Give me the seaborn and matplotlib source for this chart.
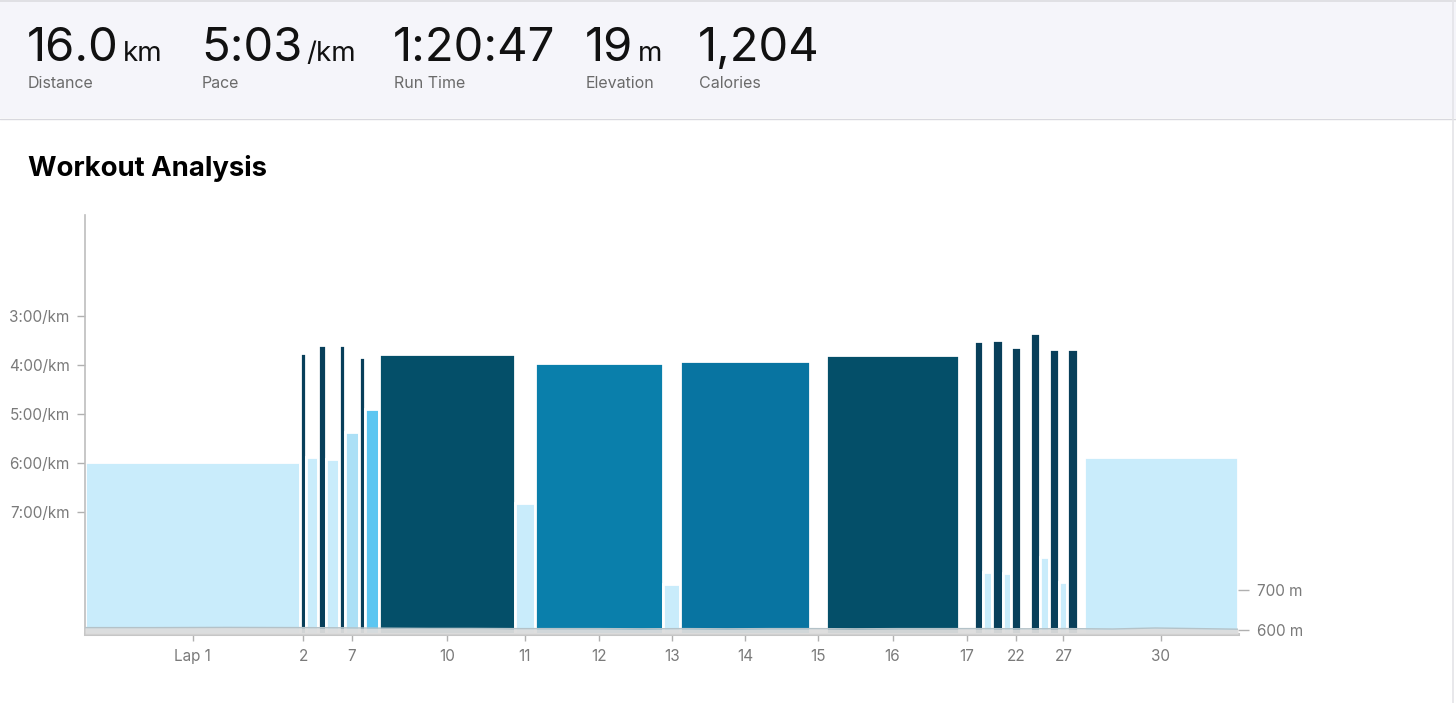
import numpy as np
import matplotlib
matplotlib.use("Agg")
import matplotlib.pyplot as plt
from matplotlib.patches import Rectangle
from matplotlib.lines import Line2D
import seaborn as sns

# ---------------- data ----------------
laps = list(range(1, 31))
lap_seconds = [906, 25, 50, 32, 53, 27, 57, 27, 61, 568, 88, 538, 71, 545, 67,
               561, 61, 40, 38, 44, 36, 40, 38, 44, 36, 44, 34, 44, 25, 648]
pace_sec = [359, 225, 353, 215, 355, 215, 322, 230, 294, 227, 409, 238, 508, 235, np.nan,
            228, np.nan, 211, 493, 209, 494, 218, np.nan, 201, 475, 221, 505, 221, np.nan, 353]
lap_kind = ["easy", "sprint", "easy", "sprint", "easy", "sprint", "steady", "sprint", "tempo",
            "hard", "easy", "threshold", "easy", "threshold2", "rest", "hard", "rest",
            "sprint", "easy", "sprint", "easy", "sprint", "rest", "sprint", "easy",
            "sprint", "easy", "sprint", "rest", "easy"]
tick_laps = [1, 2, 7, 10, 11, 12, 13, 14, 15, 16, 17, 22, 27, 30]
pace_ticks = [180, 240, 300, 360, 420]
pace_tick_labels = ["3:00/km", "4:00/km", "5:00/km", "6:00/km", "7:00/km"]
elev_ticks = [600, 700]
elev_tick_labels = ["600 m", "700 m"]
elev_time_min = [0, 5, 10, 15, 18, 21, 24, 27, 30, 33, 36, 39, 42, 45, 48, 51, 54,
                 57, 60, 63, 66, 69, 72, 75, 78, 80.8]
elev_m = [606, 606, 606.5, 606, 605.5, 604.5, 604, 604, 603.5, 603.5, 603.5, 603, 603.5,
          603, 603.5, 603.5, 603, 603.5, 603.5, 603.5, 603, 603.5, 602.5, 605, 603.5, 602]

stats_values = ["16.0", "5:03", "1:20:47", "19", "1,204"]
stats_units = ["km", "/km", "", "m", ""]
stats_labels = ["Distance", "Pace", "Run Time", "Elevation", "Calories"]

# ---------------- style ----------------
kind_colors = {
    "easy": "#c9ecfb", "steady": "#ace0f6", "tempo": "#5cc6f1", "hard": "#044f69",
    "threshold": "#0a7fab", "threshold2": "#0874a1", "sprint": "#083f5a", "rest": "#ffffff",
}

sns.set_theme(style="white")
plt.rcParams["font.family"] = ["Inter", "DejaVu Sans"]

W, H = 1456, 703
fig = plt.figure(figsize=(W / 100, H / 100), dpi=100)
fig.patch.set_facecolor("white")

# header band
fig.patches.append(Rectangle((0, 1 - 118 / H), 1, 118 / H, transform=fig.transFigure,
                             facecolor="#f5f5fa", edgecolor="none", zorder=0))
fig.lines.append(Line2D([0, 1], [1 - 118.5 / H] * 2, transform=fig.transFigure, color="#d8d8de", lw=1))
fig.lines.append(Line2D([0, 1], [1 - 1 / H] * 2, transform=fig.transFigure, color="#dcdce0", lw=1.2))
fig.lines.append(Line2D([1 - 3 / W] * 2, [0, 1], transform=fig.transFigure, color="#e4e4e8", lw=1.2))

renderer = fig.canvas.get_renderer()
stat_x = [27, 201, 393, 585, 698]
for x0, v, u, lab in zip(stat_x, stats_values, stats_units, stats_labels):
    t = fig.text(x0 / W, 1 - 61 / H, v, fontsize=34, color="#111111", va="baseline", ha="left")
    bb = t.get_window_extent(renderer)
    if u:
        fig.text((bb.x1 + 4) / W, 1 - 61 / H, u, fontsize=20, color="#111111", va="baseline", ha="left")
    fig.text((x0 + 1) / W, 1 - 88 / H, lab, fontsize=11.5, color="#6a6a6a", va="baseline", ha="left")

fig.text(28 / W, 1 - 176 / H, "Workout Analysis", fontsize=19.8, fontweight="bold",
         color="#000000", va="baseline", ha="left")

# ---------------- chart ----------------
ax = fig.add_axes([85 / W, 1 - 634 / H, (1238 - 85) / W, (634 - 215) / H])
ax.set_facecolor("none")
floor = 569
lefts = np.concatenate([[0], np.cumsum(lap_seconds)[:-1]])
centers = lefts + np.array(lap_seconds) / 2
heights = [p - floor for p in pace_sec]
colors = [kind_colors[k] for k in lap_kind]
ax.bar(lefts, heights, width=lap_seconds, bottom=floor, align="edge", color=colors,
       edgecolor="white", linewidth=2.0, zorder=2)
ax.set_xlim(0, sum(lap_seconds))
ax.set_ylim(floor, 56.6)

ax.set_yticks(pace_ticks)
ax.set_yticklabels(pace_tick_labels)
tick_pos = [centers[l - 1] for l in tick_laps]
ax.set_xticks(tick_pos)
ax.set_xticklabels(["Lap 1" if l == 1 else str(l) for l in tick_laps])
ax.tick_params(axis="y", left=True, length=6, width=1, color="#b0b0b0", labelsize=11,
               labelcolor="#7a7a7a", pad=5)
ax.tick_params(axis="x", bottom=True, length=5, width=1, color="#b0b0b0", labelsize=11,
               labelcolor="#7a7a7a", pad=6)
for s in ["top", "right"]:
    ax.spines[s].set_visible(False)
ax.spines["left"].set_color("#bdbdbd")
ax.spines["left"].set_linewidth(1.2)
ax.spines["bottom"].set_color("#c6c6c6")
ax.spines["bottom"].set_linewidth(2.2)
ax.grid(False)

# elevation (twin axis)
ax2 = ax.twinx()
elev_t = [m * 60 for m in elev_time_min]
ax2.fill_between(elev_t, 590, elev_m, color="#dddddd", alpha=0.95, lw=0, zorder=3)
sns.lineplot(x=elev_t, y=elev_m, ax=ax2, color="#b4c2c8", lw=1, zorder=4)
ax2.set_ylim(590, 1637.5)
ax2.set_yticks(elev_ticks)
ax2.set_yticklabels(elev_tick_labels)
ax2.tick_params(axis="y", right=True, length=8, width=1, color="#b0b0b0", labelsize=11,
                labelcolor="#7a7a7a", pad=6)
for s in ["top", "right", "left", "bottom"]:
    ax2.spines[s].set_visible(False)
ax2.grid(False)
ax2.set_xlim(0, sum(lap_seconds))

fig.savefig("out.png", dpi=100)
